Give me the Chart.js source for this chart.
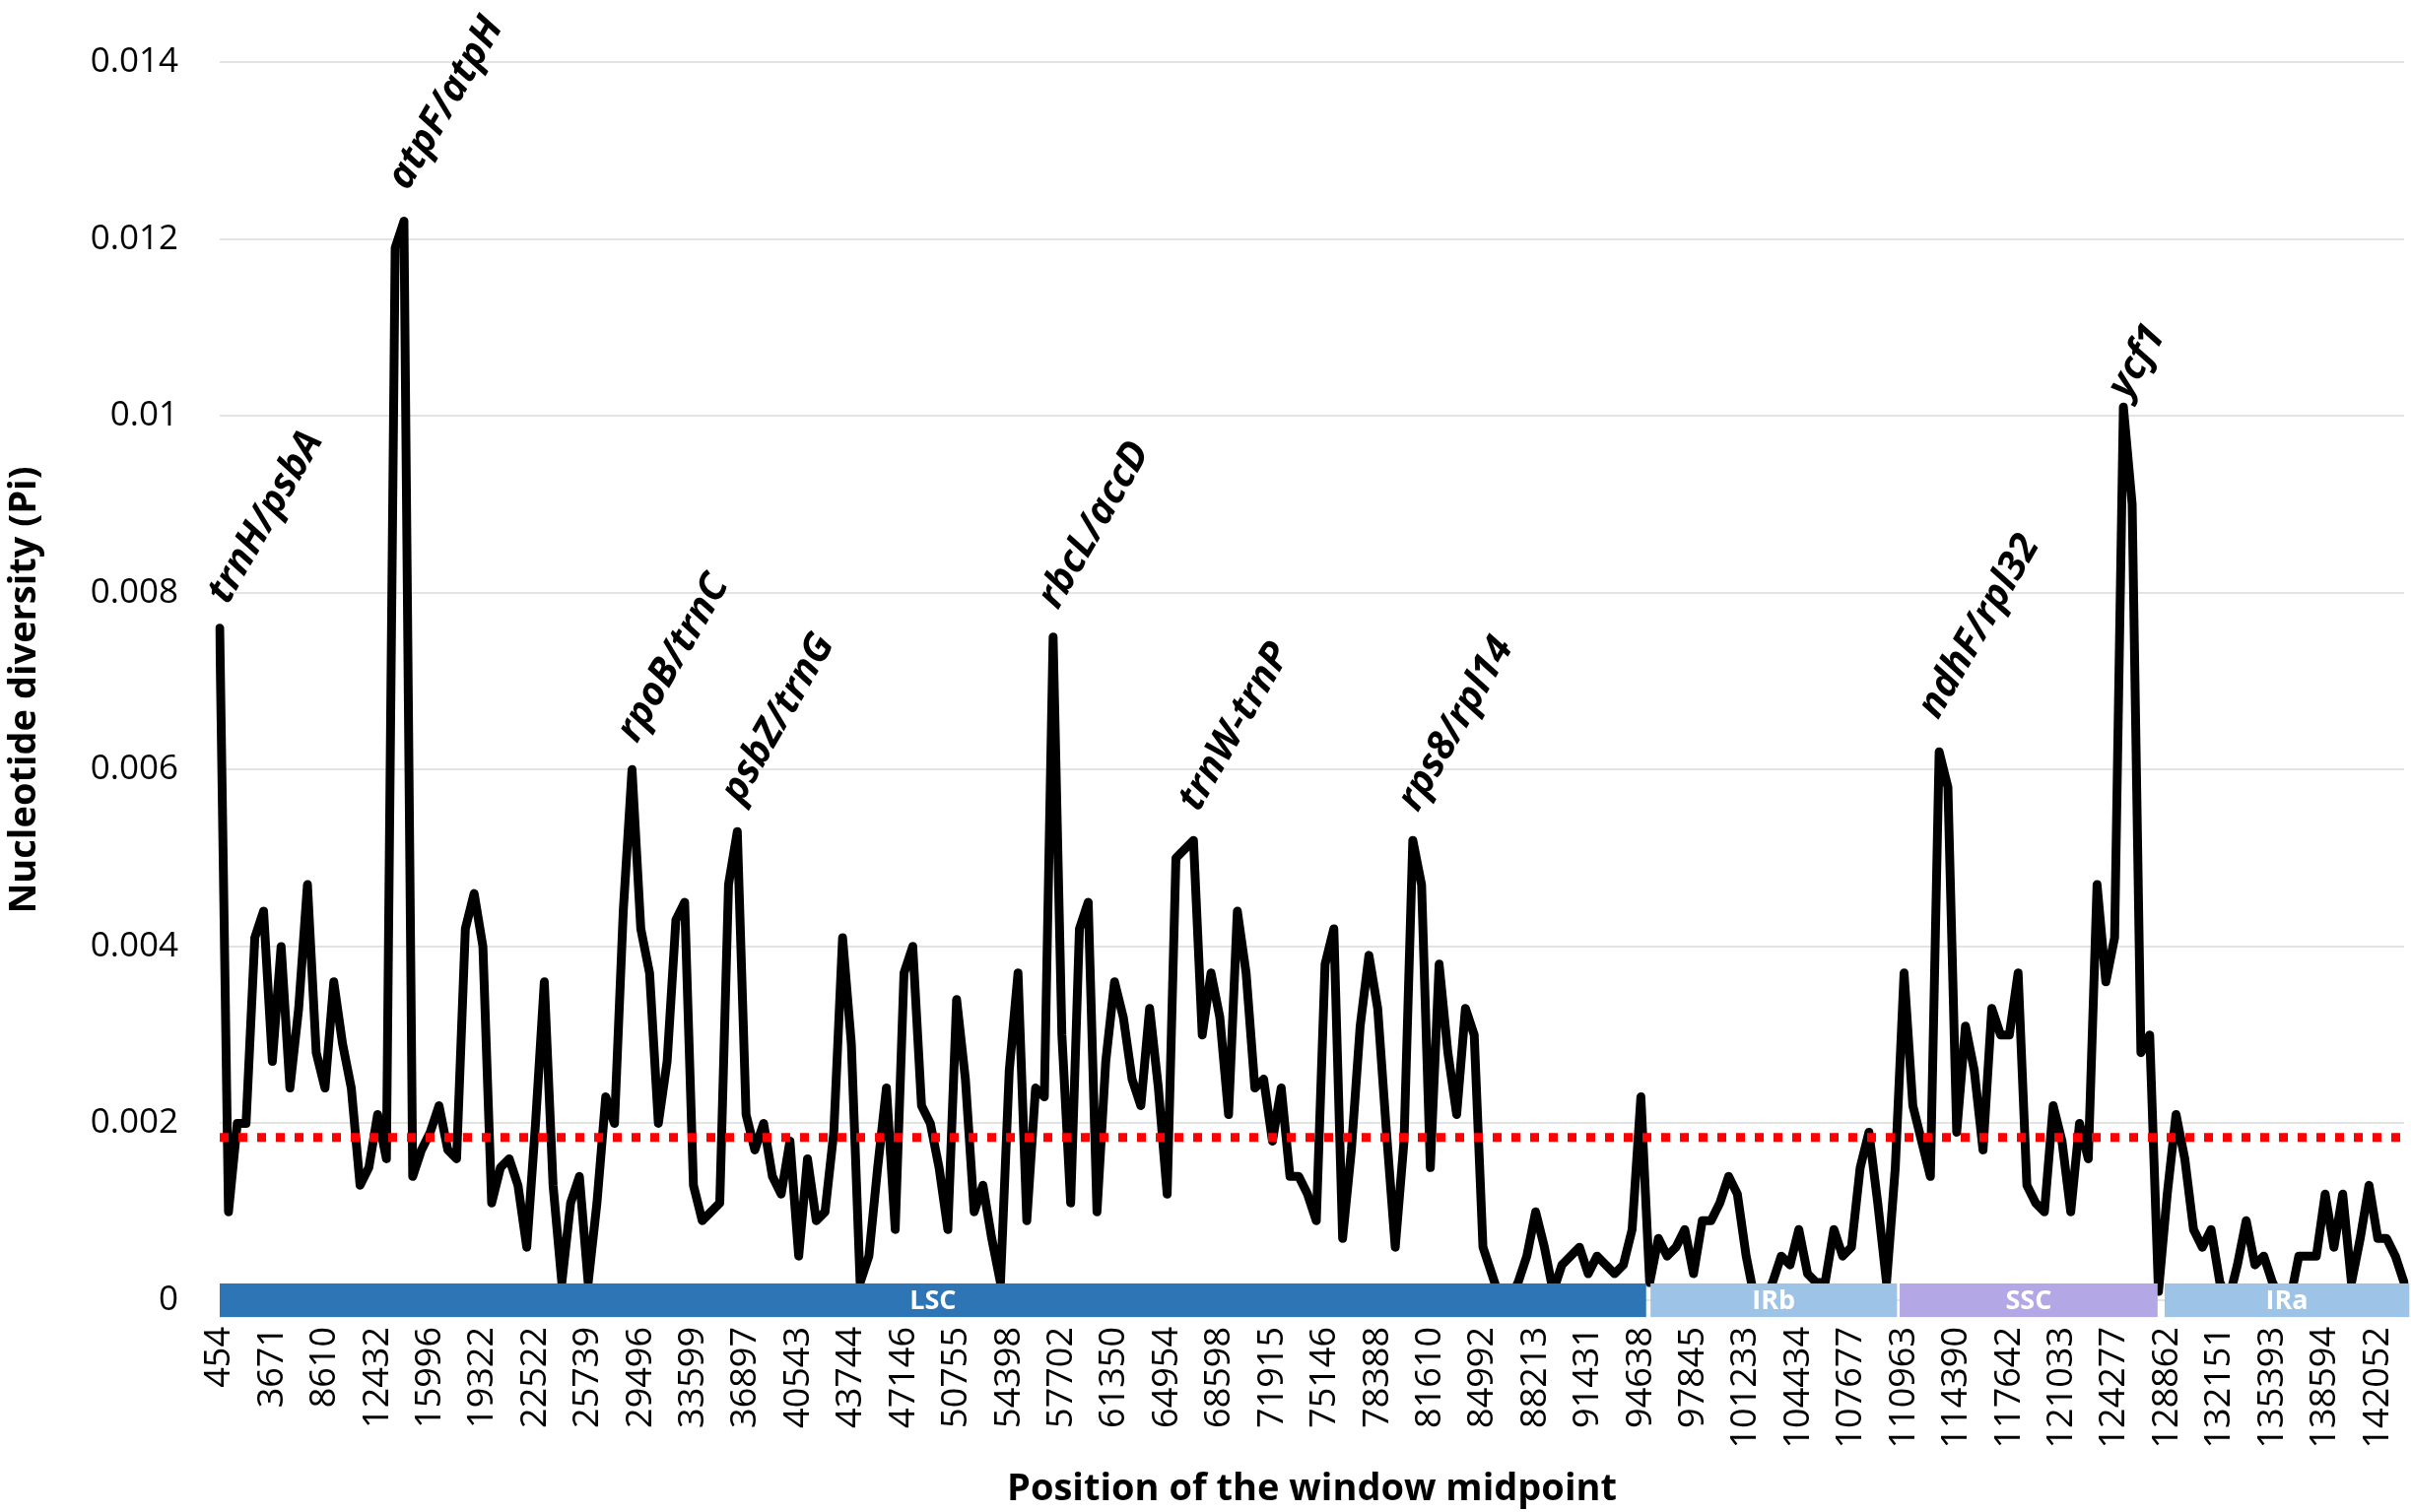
<!DOCTYPE html>
<html>
<head>
<meta charset="utf-8">
<script src="https://cdn.jsdelivr.net/npm/chart.js@4.4.1/dist/chart.umd.min.js"></script>
<style>
  html, body { margin: 0; padding: 0; background: #fff; overflow: hidden; }
  #wrap { width: 2447px; height: 1535px; position: relative; }
  canvas { display: block; }
</style>
</head>
<body>
<div id="wrap"><canvas id="piChart"></canvas></div>
<script>
// x tick labels (window midpoints shown on the axis, one every 6 windows)
const tickLabels = ['454', '3671', '8610', '12432', '15996', '19322', '22522', '25739', '29496', '33599',
    '36897', '40543', '43744', '47146', '50755', '54398', '57702', '61350', '64954', '68598',
    '71915', '75146', '78388', '81610', '84992', '88213', '91431', '94638', '97845', '101233',
    '104434', '107677', '110963', '114390', '117642', '121033', '124277', '128862', '132151', '135393',
    '138594', '142052'];
const labelStep = 6;

// nucleotide diversity per window
const piValues = [
    0.0076, 0.0010, 0.0020, 0.0020, 0.0041, 0.0044, 0.0027, 0.0040, 0.0024, 0.0033,
    0.0047, 0.0028, 0.0024, 0.0036, 0.0029, 0.0024, 0.0013, 0.0015, 0.0021, 0.0016,
    0.0119, 0.0122, 0.0014, 0.0017, 0.0019, 0.0022, 0.0017, 0.0016, 0.0042, 0.0046,
    0.0040, 0.0011, 0.0015, 0.0016, 0.0013, 0.0006, 0.0020, 0.0036, 0.0013, 0.0002,
    0.0011, 0.0014, 0.0002, 0.0011, 0.0023, 0.0020, 0.0044, 0.0060, 0.0042, 0.0037,
    0.0020, 0.0027, 0.0043, 0.0045, 0.0013, 0.0009, 0.0010, 0.0011, 0.0047, 0.0053,
    0.0021, 0.0017, 0.0020, 0.0014, 0.0012, 0.0018, 0.0005, 0.0016, 0.0009, 0.0010,
    0.0019, 0.0041, 0.0029, 0.0002, 0.0005, 0.0015, 0.0024, 0.0008, 0.0037, 0.0040,
    0.0022, 0.0020, 0.0015, 0.0008, 0.0034, 0.0025, 0.0010, 0.0013, 0.0007, 0.0002,
    0.0026, 0.0037, 0.0009, 0.0024, 0.0023, 0.0075, 0.0030, 0.0011, 0.0042, 0.0045,
    0.0010, 0.0027, 0.0036, 0.0032, 0.0025, 0.0022, 0.0033, 0.0024, 0.0012, 0.0050,
    0.0051, 0.0052, 0.0030, 0.0037, 0.0032, 0.0021, 0.0044, 0.0037, 0.0024, 0.0025,
    0.0018, 0.0024, 0.0014, 0.0014, 0.0012, 0.0009, 0.0038, 0.0042, 0.0007, 0.0017,
    0.0031, 0.0039, 0.0033, 0.0019, 0.0006, 0.0018, 0.0052, 0.0047, 0.0015, 0.0038,
    0.0028, 0.0021, 0.0033, 0.0030, 0.0006, 0.0003, 0.0000, 0.0000, 0.0002, 0.0005,
    0.0010, 0.0006, 0.0001, 0.0004, 0.0005, 0.0006, 0.0003, 0.0005, 0.0004, 0.0003,
    0.0004, 0.0008, 0.0023, 0.0002, 0.0007, 0.0005, 0.0006, 0.0008, 0.0003, 0.0009,
    0.0009, 0.0011, 0.0014, 0.0012, 0.0005, 0.0000, 0.0000, 0.0002, 0.0005, 0.0004,
    0.0008, 0.0003, 0.0002, 0.0002, 0.0008, 0.0005, 0.0006, 0.0015, 0.0019, 0.0011,
    0.0002, 0.0015, 0.0037, 0.0022, 0.0018, 0.0014, 0.0062, 0.0058, 0.0019, 0.0031,
    0.0026, 0.0017, 0.0033, 0.0030, 0.0030, 0.0037, 0.0013, 0.0011, 0.0010, 0.0022,
    0.0018, 0.0010, 0.0020, 0.0016, 0.0047, 0.0036, 0.0041, 0.0101, 0.0090, 0.0028,
    0.0030, 0.0001, 0.0012, 0.0021, 0.0016, 0.0008, 0.0006, 0.0008, 0.0002, 0.0000,
    0.0004, 0.0009, 0.0004, 0.0005, 0.0002, 0.0000, 0.0000, 0.0005, 0.0005, 0.0005,
    0.0012, 0.0006, 0.0012, 0.0002, 0.0007, 0.0013, 0.0007, 0.0007, 0.0005, 0.0002
];

const meanPi = 0.00184;
const yTicks = [0, 0.002, 0.004, 0.006, 0.008, 0.01, 0.012, 0.014];

// hypervariable regions marked on the plot (window index of the peak)
const geneNames = ['trnH/psbA', 'atpF/atpH', 'rpoB/trnC', 'psbZ/trnG', 'rbcL/accD', 'trnW-trnP', 'rps8/rpl14', 'ndhF/rpl32', 'ycf1'];
const geneIdx = [0, 21, 47, 59, 95, 111, 136, 196, 217];

// genome regions (window index range)
const regionNames = ['LSC', 'IRb', 'SSC', 'IRa'];
const regionStart = [0, 163.1, 191.5, 221.7];
const regionEnd = [162.6, 191.2, 220.9, 249.6];

// styling
const regionColors = ['#2E75B6', '#9DC3E6', '#B4A7E5', '#9DC3E6'];
const geneOffsets = [[8, -23], [4, -30], [5, -26], [4, -27], [5, -27], [5, -28], [5, -28], [-1, -32], [5, -7]];
const barHalf = 0.00019;

const labels = piValues.map((v, i) => (i % labelStep === 0 ? tickLabels[i / labelStep] : ''));

const overlay = {
    id: 'overlay',
    afterDatasetsDraw(chart) {
        const ctx = chart.ctx;
        const x = chart.scales.x;
        const y = chart.scales.y;
        const top = y.getPixelForValue(barHalf);
        const bottom = y.getPixelForValue(-barHalf);
        ctx.save();
        regionNames.forEach((name, k) => {
            const x0 = x.getPixelForValue(regionStart[k]);
            const x1 = x.getPixelForValue(regionEnd[k]);
            ctx.fillStyle = regionColors[k];
            ctx.fillRect(x0, top, x1 - x0, bottom - top);
            ctx.fillStyle = '#fff';
            ctx.font = 'bold 27px "Open Sans"';
            ctx.textAlign = 'center';
            ctx.textBaseline = 'middle';
            ctx.fillText(name, (x0 + x1) / 2, (top + bottom) / 2 + 1);
        });
        geneNames.forEach((name, k) => {
            const px = x.getPixelForValue(geneIdx[k]);
            const py = y.getPixelForValue(piValues[geneIdx[k]]);
            ctx.save();
            ctx.translate(px + geneOffsets[k][0], py + geneOffsets[k][1]);
            ctx.rotate(-Math.PI / 3);
            ctx.fillStyle = '#000';
            ctx.font = 'italic bold 40px "Open Sans"';
            ctx.textAlign = 'left';
            ctx.textBaseline = 'alphabetic';
            ctx.fillText(name, 0, 0);
            ctx.restore();
        });
        ctx.restore();
    }
};

new Chart(document.getElementById('piChart').getContext('2d'), {
    type: 'line',
    data: {
        labels: labels,
        datasets: [{
            label: 'Pi',
            data: piValues,
            borderColor: '#000',
            borderWidth: 9,
            borderJoinStyle: 'round',
            borderCapStyle: 'round',
            pointRadius: 0,
            tension: 0,
            order: 1
        }, {
            label: 'Mean Pi',
            data: piValues.map(() => meanPi),
            borderColor: '#FF0000',
            borderWidth: 9,
            borderDash: [9, 10],
            pointRadius: 0,
            order: 0
        }]
    },
    options: {
        responsive: true,
        maintainAspectRatio: false,
        devicePixelRatio: 1,
        animation: false,
        layout: { padding: { left: 0, right: 7, top: 60, bottom: 0 } },
        plugins: {
            legend: { display: false },
            tooltip: { enabled: false }
        },
        scales: {
            x: {
                grid: { display: false, drawTicks: false },
                border: { display: false },
                ticks: {
                    autoSkip: false,
                    minRotation: 90,
                    maxRotation: 90,
                    padding: 9,
                    color: '#000',
                    font: { family: '"Open Sans"', size: 36 }
                },
                title: {
                    display: true,
                    text: 'Position of the window midpoint',
                    color: '#000',
                    font: { family: '"Open Sans"', size: 38, weight: 'bold' },
                    padding: { top: 0, bottom: 0 }
                },
                afterFit(scale) {
                    scale.height = 197;
                    scale.paddingLeft = 0;
                    scale.paddingRight = 0;
                }
            },
            y: {
                min: -0.0002,
                max: 0.014,
                grid: { color: '#E3E3E3', lineWidth: 2, drawTicks: false },
                border: { display: false },
                afterBuildTicks(scale) { scale.ticks = yTicks.map(v => ({ value: v })); },
                ticks: {
                    padding: 42,
                    color: '#000',
                    font: { family: '"Open Sans"', size: 35 },
                    callback: v => String(v)
                },
                title: {
                    display: true,
                    text: 'Nucleotide diversity (Pi)',
                    color: '#000',
                    font: { family: '"Open Sans"', size: 38, weight: 'bold' },
                    padding: { top: 2, bottom: 0 }
                },
                afterFit(scale) { scale.width = 223; }
            }
        }
    },
    plugins: [overlay]
});
</script>
</body>
</html>
